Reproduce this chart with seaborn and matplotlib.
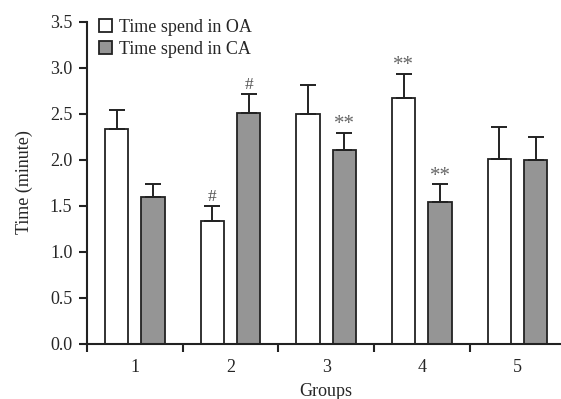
import matplotlib
matplotlib.use("Agg")
import matplotlib.pyplot as plt
import seaborn as sns
import pandas as pd
import numpy as np

groups = ["1", "2", "3", "4", "5"]
series = ["Time spend in OA", "Time spend in CA"]
oa_mean = [2.33, 1.33, 2.50, 2.67, 2.01]
oa_err = [0.21, 0.16, 0.31, 0.26, 0.34]
ca_mean = [1.59, 2.51, 2.10, 1.54, 2.00]
ca_err = [0.14, 0.20, 0.19, 0.19, 0.25]
oa_mark = ["", "#", "", "**", ""]
ca_mark = ["", "#", "**", "**", ""]
y_ticks = [0.0, 0.5, 1.0, 1.5, 2.0, 2.5, 3.0, 3.5]

df = pd.DataFrame({
    "Groups": groups * 2,
    "Series": [series[0]] * 5 + [series[1]] * 5,
    "Time": oa_mean + ca_mean,
})

sns.set_theme(style="ticks")
plt.rcParams["font.family"] = ["Liberation Serif", "DejaVu Serif"]

fig = plt.figure(figsize=(5.61, 3.99), dpi=100)
ax = fig.add_axes([0.155, 0.139, 0.853, 0.807])

edge = "#222222"
sns.barplot(data=df, x="Groups", y="Time", hue="Series", order=groups,
            hue_order=series, palette=["white", "#959595"], width=0.76,
            gap=0.36, edgecolor=edge, linewidth=1.3, errorbar=None,
            legend=False, ax=ax, saturation=1)

for cont, means, errs, marks in zip(ax.containers, [oa_mean, ca_mean],
                                    [oa_err, ca_err], [oa_mark, ca_mark]):
    xs = [p.get_x() + p.get_width() / 2 for p in cont.patches]
    ax.errorbar(xs, means, yerr=[np.zeros(len(errs)), errs], fmt="none",
                ecolor=edge, elinewidth=1.4, capsize=5.5, capthick=1.4,
                zorder=1)
    for x, m, e, t in zip(xs, means, errs, marks):
        if t == "#":
            ax.annotate(t, (x, m + e), xytext=(0, 1.0),
                        textcoords="offset points", ha="center", va="bottom",
                        fontsize=12.5, color="#555555")
        elif t:
            ax.annotate(t, (x, m + e), xytext=(0, -1.0),
                        textcoords="offset points", ha="center", va="bottom",
                        fontsize=15, color="#666666")

ax.set_xlim(-0.5, 4.5)
ax.set_ylim(0, 3.5)
ax.set_yticks(y_ticks)
ax.set_yticklabels([f"{v:.1f}" for v in y_ticks], fontsize=13)
ax.set_xticks(range(len(groups)))
ax.set_xticklabels(groups, fontsize=13)
ax.tick_params(axis="x", length=0, pad=11)
ax.set_xticks(np.arange(-0.5, 4.0, 1.0), minor=True)
ax.tick_params(axis="x", which="minor", length=6, width=1.5, color=edge,
               direction="out")
ax.tick_params(axis="y", length=5.5, width=1.5, color=edge, pad=5)
for s in ["top", "right"]:
    ax.spines[s].set_visible(False)
for s in ["left", "bottom"]:
    ax.spines[s].set_linewidth(1.5)
    ax.spines[s].set_color(edge)

ax.set_xlabel("Groups", fontsize=13, labelpad=5)
ax.set_ylabel("Time (minute)", fontsize=13, labelpad=12)

handles = [ax.containers[0].patches[0], ax.containers[1].patches[0]]
leg = ax.legend(handles, series, loc="upper left", bbox_to_anchor=(0.0, 1.045),
                frameon=False, fontsize=13, handlelength=0.72,
                handleheight=0.72, handletextpad=0.4, labelspacing=0.3,
                borderaxespad=0.25)

fig.savefig("out.png", dpi=100)
